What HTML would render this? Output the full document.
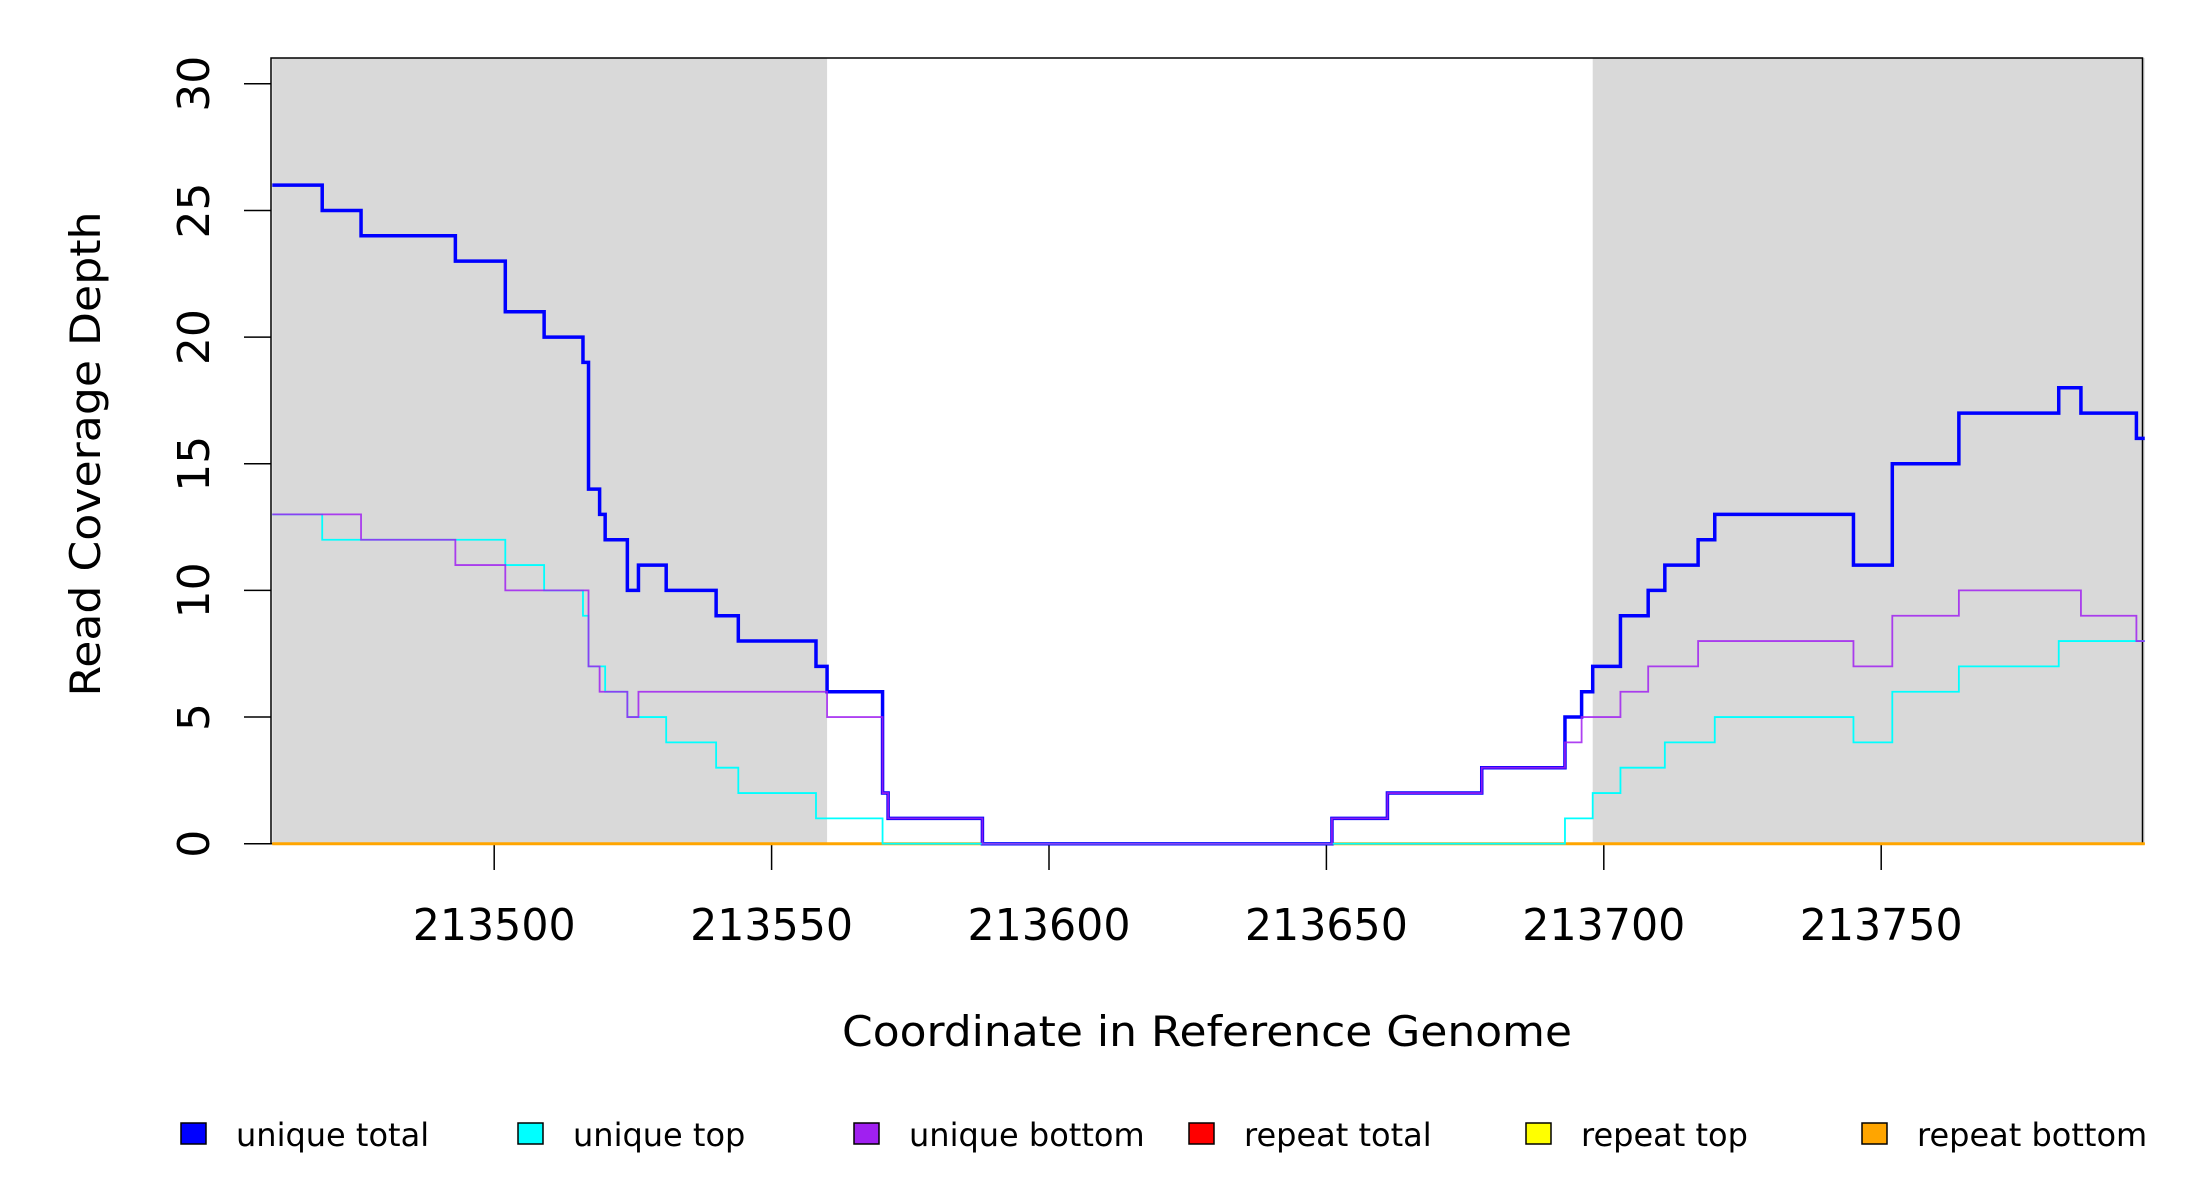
<!DOCTYPE html>
<html><head><meta charset="utf-8"><style>
html,body{margin:0;padding:0;background:#fff;}
svg{display:block;font-family:"DejaVu Sans","Liberation Sans",sans-serif;}
</style></head><body>
<svg id="chart" width="2200" height="1200" viewBox="0 0 2200 1200" xmlns="http://www.w3.org/2000/svg">
<g id="bg"></g>
<rect x="271" y="58" width="1871.5" height="785.7" fill="none" stroke="#000" stroke-width="1.5"/>
<g id="xaxis"></g>
<g id="yaxis"></g>
<g id="series"></g>
<text x="1207" y="1046" font-size="42" text-anchor="middle" textLength="730" lengthAdjust="spacingAndGlyphs">Coordinate in Reference Genome</text>
<text transform="translate(100,454) rotate(-90)" font-size="42" text-anchor="middle" textLength="485" lengthAdjust="spacingAndGlyphs">Read Coverage Depth</text>
<g id="legend"></g>
</svg>
<script>
const xTicks = [213500, 213550, 213600, 213650, 213700, 213750];
const yTicks = [0, 5, 10, 15, 20, 25, 30];
const shadedStarts = [213460, 213698];
const shadedEnds = [213560, 213797.5];
// step series: breakpoints (genome coordinate) and values (depth) for each segment
const totalX = [213460,213469,213476,213493,213502,213509,213516,213517,213519,213520,213524,213526,213531,213540,213544,213558,213560,213570,213571,213588,213651,213661,213678,213693,213696,213698,213703,213708,213711,213717,213720,213745,213752,213764,213782,213786,213796,213797.5];
const totalY = [26,25,24,23,21,20,19,14,13,12,10,11,10,9,8,7,6,2,1,0,1,2,3,5,6,7,9,10,11,12,13,11,15,17,18,17,16];
const topX = [213460,213469,213502,213509,213516,213517,213520,213524,213531,213540,213544,213558,213570,213693,213698,213703,213711,213720,213745,213752,213764,213782,213797.5];
const topY = [13,12,11,10,9,7,6,5,4,3,2,1,0,1,2,3,4,5,4,6,7,8];
const bottomX = [213460,213476,213493,213502,213517,213519,213524,213526,213560,213570,213571,213588,213651,213661,213678,213693,213696,213703,213708,213717,213745,213752,213764,213786,213796,213797.5];
const bottomY = [13,12,11,10,7,6,5,6,5,2,1,0,1,2,3,4,5,6,7,8,7,9,10,9,8];
const repeatX = [213460,213797.5];
const repeatY = [0];
const legendLabels = ["unique total","unique top","unique bottom","repeat total","repeat top","repeat bottom"];
const legendColors = ["#0000ff","#00ffff","#a020f0","#ff0000","#ffff00","#ffa500"];

const NS = "http://www.w3.org/2000/svg";
const X0 = 213500, PX0 = 494.2, PPU = 5.548;
function sx(u){ return PX0 + (u - X0) * PPU; }
const Y0 = 843.7, PPV = 25.33;
function sy(v){ return Y0 - v * PPV; }
function mk(tag, attrs, parent){ const e = document.createElementNS(NS, tag); for (const k in attrs) e.setAttribute(k, attrs[k]); parent.appendChild(e); return e; }

const bg = document.getElementById('bg');
for (let i = 0; i < shadedStarts.length; i++) {
  const r = mk('rect', {x: sx(shadedStarts[i]), y: 58, width: sx(shadedEnds[i]) - sx(shadedStarts[i]), height: Y0 - 58, fill: '#d9d9d9'}, bg);
  
  
}

function stepPath(xs, ys){
  let d = 'M' + sx(xs[0]) + ' ' + sy(ys[0]);
  for (let i = 0; i < ys.length; i++) {
    d += ' L' + sx(xs[i + 1]) + ' ' + sy(ys[i]);
    if (i + 1 < ys.length) d += ' L' + sx(xs[i + 1]) + ' ' + sy(ys[i + 1]);
  }
  return d;
}
const sg = document.getElementById('series');
const defs = [
  [repeatX, repeatY, '#ff0000', 2, 'repeat-total-line'],
  [repeatX, repeatY, '#ffff00', 2, 'repeat-top-line'],
  [repeatX, repeatY, '#ffa500', 3, 'repeat-bottom-line'],
  [totalX, totalY, '#0000ff', 3.5, 'unique-total-line'],
  [topX, topY, '#00ffff', 1.8, 'unique-top-line'],
  [bottomX, bottomY, '#a020f0', 1.8, 'unique-bottom-line']
];
defs.forEach(s => {
  const p = mk('path', {d: stepPath(s[0], s[1]), fill: 'none', stroke: s[2], 'stroke-width': s[3], 'stroke-linejoin': 'miter', opacity: s[2] === '#a020f0' ? 0.85 : 1}, sg);
  
  
});

const xa = document.getElementById('xaxis');
xTicks.forEach(t => {
  const l = mk('line', {x1: sx(t), x2: sx(t), y1: Y0, y2: 870, stroke: '#000', 'stroke-width': 1.5}, xa);
  
  
  const tx = mk('text', {x: sx(t), y: 940, 'font-size': 44, 'text-anchor': 'middle', textLength: 163, lengthAdjust: 'spacingAndGlyphs'}, xa);
  tx.textContent = t;
  
  
});
const ya = document.getElementById('yaxis');
yTicks.forEach(t => {
  const l = mk('line', {x1: 244, x2: 271, y1: sy(t), y2: sy(t), stroke: '#000', 'stroke-width': 1.5}, ya);
  
  
  const tx = mk('text', {transform: 'translate(209,' + sy(t) + ') rotate(-90)', 'font-size': 44, 'text-anchor': 'middle'}, ya);
  tx.textContent = t;
  
  
});

const lg = document.getElementById('legend');
const legX = [181, 518, 854, 1189, 1526, 1862];
legendLabels.forEach((lab, i) => {
  const g = mk('g', {}, lg);
  
  
  mk('rect', {x: legX[i], y: 1123, width: 25, height: 21, fill: legendColors[i], stroke: '#000', 'stroke-width': 1.5}, g);
  const tx = mk('text', {x: legX[i] + 55, y: 1146, 'font-size': 32}, g);
  tx.textContent = lab;
});
</script>
</body></html>
